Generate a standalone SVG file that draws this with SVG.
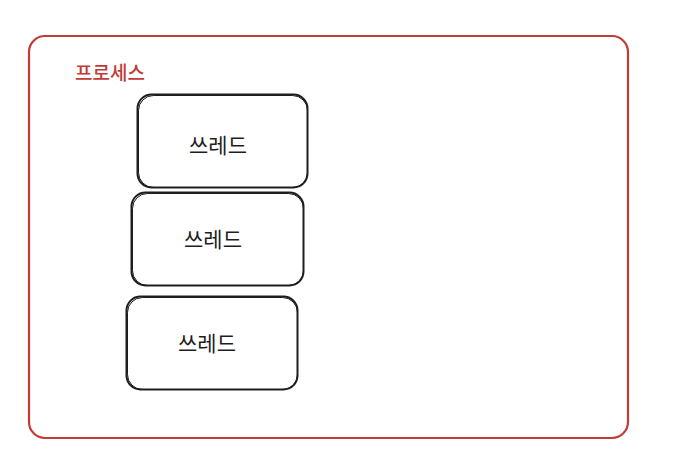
<svg xmlns="http://www.w3.org/2000/svg" width="675" height="463" viewBox="0 0 675 463">
<style>
.proc{fill:none;stroke:#c23b36;stroke-width:2.2}
.thr{fill:#fff;stroke:#1e1e1e;stroke-width:2}
.thr2{fill:none;stroke:#1e1e1e;stroke-width:1}
.lbl{font-family:"Noto Sans CJK KR","Noto Sans",sans-serif;font-size:21px;fill:#1e1e1e;text-anchor:middle;dominant-baseline:central}
.plbl{font-family:"Noto Sans CJK KR","Noto Sans",sans-serif;font-size:19px;font-weight:500;fill:#c23b36;dominant-baseline:central}
</style>
<rect width="675" height="463" fill="#fff"/>
<g id="process">
<rect class="proc" x="29" y="36" width="599" height="402" rx="16"/>
<text class="plbl" x="75" y="71">프로세스</text>
</g>
<g id="thread1">
<rect class="thr" x="137.5" y="94.5" width="170" height="93" rx="14"/>
<rect class="thr2" x="138.5" y="95.5" width="169" height="92" rx="15"/>
<text class="lbl" x="218" y="144">쓰레드</text>
</g>
<g id="thread2">
<rect class="thr" x="131.5" y="192.5" width="172" height="93" rx="14"/>
<rect class="thr2" x="132.5" y="193.5" width="171" height="92" rx="15"/>
<text class="lbl" x="213" y="238">쓰레드</text>
</g>
<g id="thread3">
<rect class="thr" x="126.5" y="296.5" width="171" height="93" rx="14"/>
<rect class="thr2" x="127.5" y="297.5" width="170" height="92" rx="15"/>
<text class="lbl" x="207" y="342">쓰레드</text>
</g>
<g id="connectors"></g>
</svg>
